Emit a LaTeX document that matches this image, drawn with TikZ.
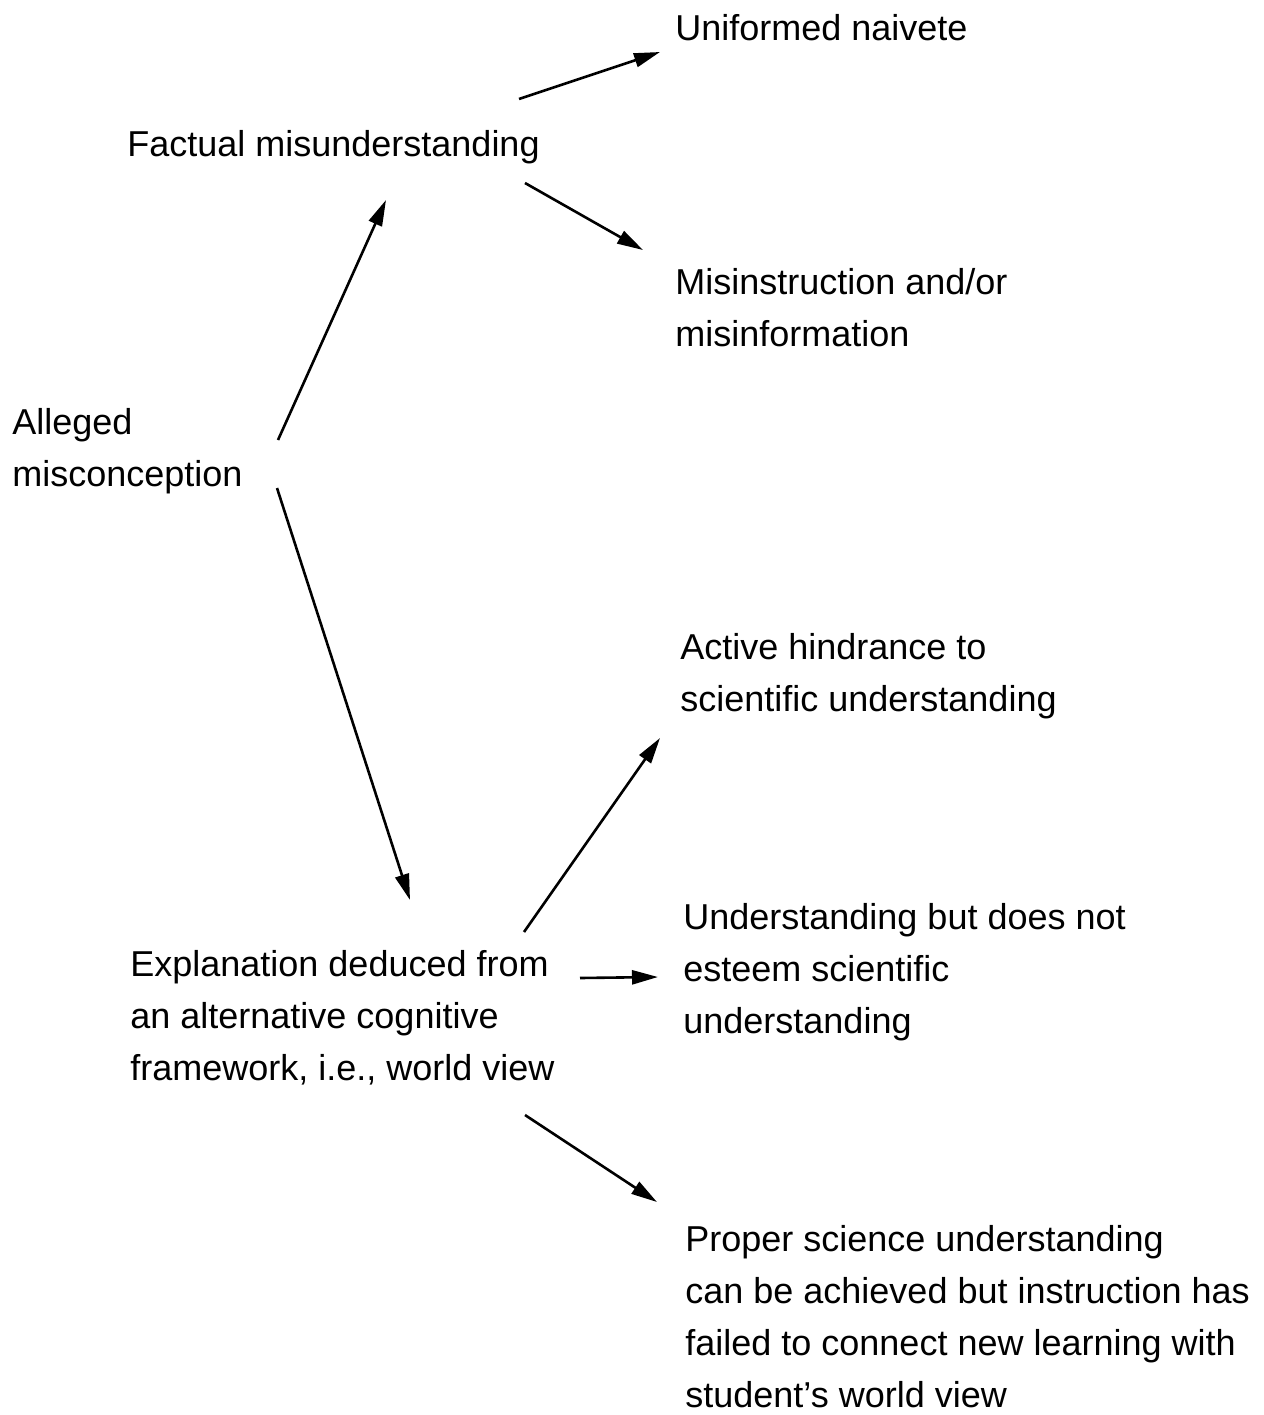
\documentclass[tikz,border=0pt]{standalone}
\usepackage{fontspec}
\setmainfont{Liberation Sans}
\usetikzlibrary{arrows.meta}
\begin{document}
\begin{tikzpicture}[x=0.5pt,y=-0.5pt,
  label/.style={anchor=north west,inner sep=0pt,align=left,
    font=\fontsize{18}{26}\selectfont},
  arr/.style={line width=1.3pt,-{Triangle[length=13pt,width=7pt]}}]
\useasboundingbox[fill=white] (0,0) rectangle (1264,1415);

% statements
\node[label] (naive)   at (675,14)  {Uniformed naivete};
\node[label] (fact)    at (127,130) {Factual misunderstanding};
\node[label] (misinst) at (675,268) {Misinstruction and/or\\misinformation};
\node[label] (alleged) at (12,408)  {Alleged\\misconception};
\node[label] (active)  at (680,633) {Active hindrance to\\scientific understanding};
\node[label] (esteem)  at (683,903) {Understanding but does not\\esteem scientific\\understanding};
\node[label] (expl)    at (130,950) {Explanation deduced from\\an alternative cognitive\\framework, i.e., world view};
\node[label] (proper)  at (685,1225) {Proper science understanding\\can be achieved but instruction has\\failed to connect new learning with\\student's world view};

% branches
\draw[arr] ([shift={(392,-31)}]fact.north west) -- ([shift={(-15,38)}]naive.north west);
\draw[arr] ([shift={(398,53)}]fact.north west) -- ([shift={(-32,-18)}]misinst.north west);
\draw[arr] ([shift={(266,32)}]alleged.north west) -- ([shift={(259,70)}]fact.north west);
\draw[arr] ([shift={(265,80)}]alleged.north west) -- ([shift={(280,-50)}]expl.north west);
\draw[arr] ([shift={(394,-18)}]expl.north west) -- ([shift={(-20,105)}]active.north west);
\draw[arr] ([shift={(450,28)}]expl.north west) -- ([shift={(-25,74)}]esteem.north west);
\draw[arr] ([shift={(395,165)}]expl.north west) -- ([shift={(-28,-23)}]proper.north west);
\end{tikzpicture}
\end{document}
